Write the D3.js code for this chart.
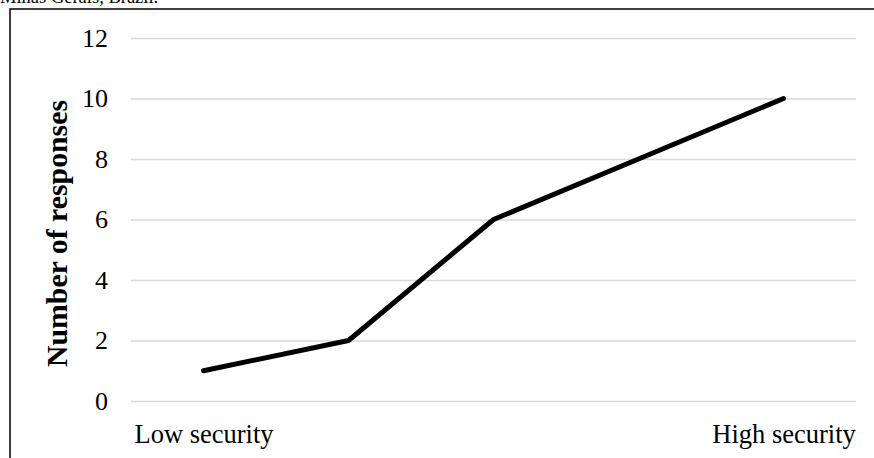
<!DOCTYPE html>
<html><head><meta charset="utf-8">
<script src="https://cdn.jsdelivr.net/npm/d3@7/dist/d3.min.js"></script>
<style>
html,body{margin:0;padding:0;background:#fff;overflow:hidden}
svg{display:block}
text{font-family:"Liberation Serif","Times New Roman",serif;fill:#000}
</style></head>
<body>
<svg id="c" width="874" height="458"></svg>
<script>
const categories = ["Low security", "", "", "", "High security"];
const responses = [1, 2, 6, 8, 10];
const yTicks = [0, 2, 4, 6, 8, 10, 12];
const yTitle = "Number of responses";
const caption = "Minas Gerais, Brazil.";

const svg = d3.select("#c");

// caption above the frame (cut by the top edge as in the reference)
svg.append("text").attr("x", 0).attr("y", 3)
  .style("font-size", "18.5px").text(caption);

// frame
svg.append("rect").attr("x", 10).attr("y", 9).attr("width", 880).attr("height", 480)
  .attr("fill", "none").attr("stroke", "#000").attr("stroke-width", 1.5);

const x = d3.scalePoint().domain(categories.map((d, i) => i)).range([131, 856]).padding(0.5);
const y = d3.scaleLinear().domain([0, 12]).range([401, 38]);

// gridlines
const grid = d3.axisLeft(y).tickValues(yTicks).tickSize(-(856 - 131)).tickFormat("");
const gg = svg.append("g").attr("transform", "translate(131,0)").call(grid);
gg.select(".domain").remove();
gg.selectAll(".tick line").attr("stroke", "#d9d9d9").attr("stroke-width", 1.5);

// y tick labels
const ya = d3.axisLeft(y).tickValues(yTicks).tickSize(0).tickPadding(0).tickFormat(d3.format("d"));
const yg = svg.append("g").attr("transform", "translate(108,0)").call(ya);
yg.select(".domain").remove();
yg.selectAll(".tick text").style("font-size", "26px")
  .style("font-family", "'Liberation Serif','Times New Roman',serif").attr("fill", "#000");

// x labels
const xa = d3.axisBottom(x).tickSize(0).tickPadding(0).tickFormat(i => categories[i]);
const xg = svg.append("g").attr("transform", "translate(0,424)").call(xa);
xg.select(".domain").remove();
xg.selectAll(".tick text").style("font-size", "26.5px")
  .style("font-family", "'Liberation Serif','Times New Roman',serif").attr("fill", "#000")
  .attr("dy", "0.71em");

// y title
svg.append("text")
  .attr("transform", "translate(67,233.5) rotate(-90)")
  .attr("text-anchor", "middle")
  .style("font-size", "29.8px").style("font-weight", "bold")
  .text(yTitle);

// line
const line = d3.line().x((d, i) => x(i)).y(d => y(d));
svg.append("path").datum(responses).attr("d", line)
  .attr("fill", "none").attr("stroke", "#000").attr("stroke-width", 5)
  .attr("stroke-linecap", "round").attr("stroke-linejoin", "round");
</script>
</body></html>
